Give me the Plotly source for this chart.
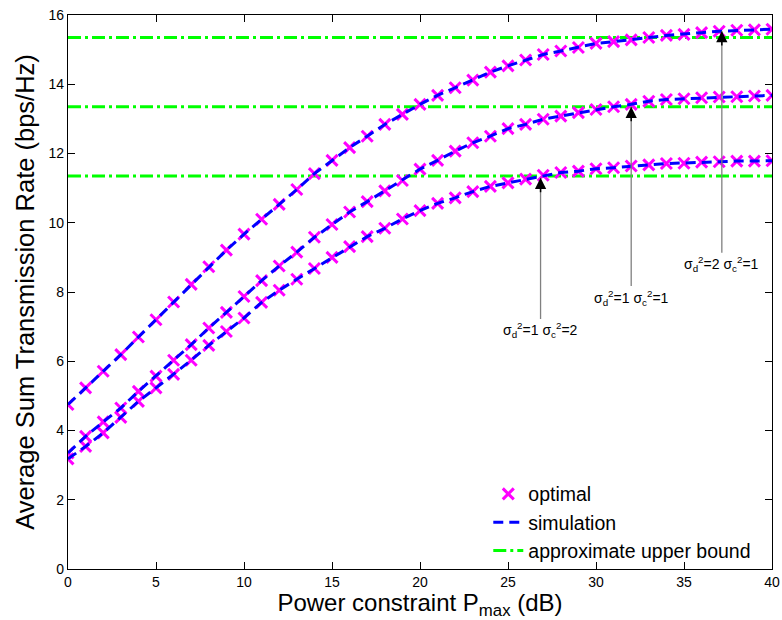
import plotly.graph_objects as go

power_db = list(range(0, 41))

rate_d2_c1 = [4.75, 5.23, 5.71, 6.19, 6.70, 7.20, 7.71, 8.22, 8.73, 9.21,
              9.67, 10.10, 10.53, 10.96, 11.42, 11.80, 12.17, 12.50, 12.84, 13.13,
              13.42, 13.68, 13.90, 14.12, 14.35, 14.53, 14.70, 14.86, 14.96, 15.06,
              15.18, 15.23, 15.28, 15.35, 15.41, 15.44, 15.49, 15.53, 15.56, 15.57,
              15.59]
rate_d1_c1 = [3.35, 3.83, 4.25, 4.65, 5.13, 5.57, 6.03, 6.48, 6.96, 7.41,
              7.87, 8.33, 8.75, 9.15, 9.58, 9.95, 10.31, 10.61, 10.92, 11.22,
              11.55, 11.80, 12.07, 12.31, 12.50, 12.72, 12.84, 12.99, 13.08, 13.18,
              13.27, 13.35, 13.42, 13.51, 13.56, 13.58, 13.61, 13.63, 13.64, 13.66,
              13.68]
rate_d1_c2 = [3.18, 3.54, 3.93, 4.38, 4.84, 5.23, 5.62, 6.03, 6.46, 6.86,
              7.25, 7.70, 8.05, 8.37, 8.68, 9.00, 9.31, 9.60, 9.84, 10.11,
              10.35, 10.56, 10.72, 10.90, 11.05, 11.15, 11.26, 11.37, 11.45, 11.49,
              11.56, 11.59, 11.64, 11.67, 11.71, 11.72, 11.75, 11.76, 11.78, 11.78,
              11.79]
upper_bounds = [15.35, 13.35, 11.35]
bound_x = [0, 40]

curves = [rate_d2_c1, rate_d1_c1, rate_d1_c2]

# arrow annotations: (tip x, tip y, label center y, label)
arrow_x = [26.85, 32.0, 37.15]
arrow_tip_y = [11.30, 13.35, 15.54]
label_y = [6.89, 7.84, 8.80]
labels = ["σ<sub>d</sub><sup>2</sup>=1 σ<sub>c</sub><sup>2</sup>=2",
          "σ<sub>d</sub><sup>2</sup>=1 σ<sub>c</sub><sup>2</sup>=1",
          "σ<sub>d</sub><sup>2</sup>=2 σ<sub>c</sub><sup>2</sup>=1"]

FONT = "Liberation Sans, Arial, Helvetica, sans-serif"

fig = go.Figure()

for i, yb in enumerate(upper_bounds):
    fig.add_trace(go.Scatter(
        x=bound_x, y=[yb, yb], mode="lines",
        line=dict(color="#00FF00", width=3, dash="13px,4px,3px,4px"),
        name="approximate upper bound", showlegend=(i == 0), legendrank=3,
        hoverinfo="skip"))

for i, c in enumerate(curves):
    fig.add_trace(go.Scatter(
        x=power_db, y=c, mode="markers",
        marker=dict(symbol="x-thin", size=11, color="#FF00FF",
                    line=dict(color="#FF00FF", width=3)),
        name="optimal", showlegend=(i == 0), legendrank=1))

for i, c in enumerate(curves):
    fig.add_trace(go.Scatter(
        x=power_db, y=c, mode="lines",
        line=dict(color="#0000FF", width=3, dash="10px,6px"),
        name="simulation", showlegend=(i == 0), legendrank=2))

annotations = []
for xa, ty, ly, txt in zip(arrow_x, arrow_tip_y, label_y, labels):
    annotations.append(dict(
        x=xa, y=ty, xref="x", yref="y", ax=xa, ay=ly, axref="x", ayref="y",
        text=txt, showarrow=True, arrowhead=0, arrowwidth=1.3,
        arrowcolor="#808080", font=dict(family=FONT, size=14, color="black")))
    annotations.append(dict(
        x=xa, y=ty, xref="x", yref="y", ax=0, ay=16,
        text="", showarrow=True, arrowhead=2, arrowsize=1.5, arrowwidth=1.5,
        arrowcolor="black"))

axis_common = dict(showline=True, linecolor="black", linewidth=1.2, mirror="ticks",
                   ticks="inside", ticklen=7, tickcolor="black", tickwidth=1,
                   showgrid=False, zeroline=False, automargin=False,
                   tickfont=dict(family=FONT, size=14, color="black"))

fig.update_layout(
    width=782, height=620,
    margin=dict(l=68, r=10, t=15, b=51),
    paper_bgcolor="white", plot_bgcolor="white",
    font=dict(family=FONT, color="black"),
    xaxis=dict(range=[0, 40], tickvals=[0, 5, 10, 15, 20, 25, 30, 35, 40],
               title=dict(text="Power constraint P<sub>max</sub> (dB)",
                          font=dict(family=FONT, size=24), standoff=0),
               **axis_common),
    yaxis=dict(range=[0, 16], tickvals=[0, 2, 4, 6, 8, 10, 12, 14, 16],
               title=dict(text="Average Sum Transmission Rate (bps/Hz)",
                          font=dict(family=FONT, size=25.5), standoff=6),
               **axis_common),
    legend=dict(x=0.597, y=-0.003, xanchor="left", yanchor="bottom",
                bgcolor="rgba(255,255,255,0)", borderwidth=0,
                font=dict(family=FONT, size=19.5, color="black"),
                tracegroupgap=0),
    annotations=annotations,
    showlegend=True,
)

fig.write_html("out.html")
